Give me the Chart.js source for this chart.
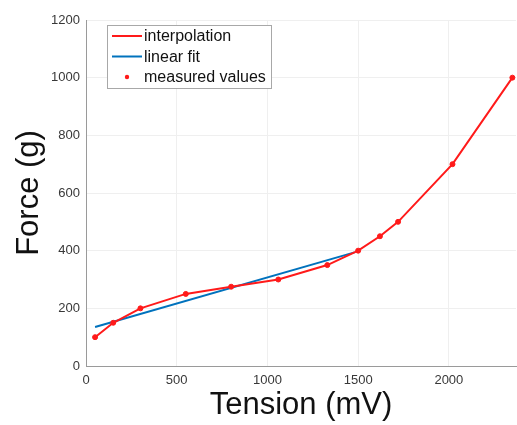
<!DOCTYPE html>
<html>
<head>
<meta charset="utf-8">
<script src="https://cdn.jsdelivr.net/npm/chart.js@4/dist/chart.umd.min.js"></script>
<style>
  body { margin: 0; background: #fff; }
  #wrap { width: 517px; height: 425px; }
</style>
</head>
<body>
<div id="wrap"><canvas id="myChart" width="517" height="425"></canvas></div>
<script>
// measured points (Tension mV -> Force g)
const tension = [50, 150, 300, 550, 800, 1060, 1330, 1500, 1620, 1720, 2020, 2350];
const force = [100, 150, 200, 250, 275, 300, 350, 400, 450, 500, 700, 1000];

// linear fit end points
const fitTension = [50, 1480];
const fitForce = [135, 394];

const xTicks = [0, 500, 1000, 1500, 2000];
const yTicks = [0, 200, 400, 600, 800, 1000, 1200];

const legendItems = [
  { label: 'interpolation', color: '#ff1a1a', kind: 'line' },
  { label: 'linear fit', color: '#0072bd', kind: 'line' },
  { label: 'measured values', color: '#ff1a1a', kind: 'dot' }
];

const FONT = '"Liberation Sans", Arial, sans-serif';
const toPoints = (xs, ys) => xs.map((x, i) => ({ x: x, y: ys[i] }));

// legend box drawn inside the plot, top left
const boxLegend = {
  id: 'boxLegend',
  afterDraw(chart) {
    const ctx = chart.ctx;
    const area = chart.chartArea;
    const left = area.left + 21, top = area.top + 5;
    const w = 164, h = 63, rowH = 20.5;
    ctx.save();
    ctx.fillStyle = '#fff';
    ctx.fillRect(left, top, w, h);
    ctx.strokeStyle = '#a8a8a8';
    ctx.lineWidth = 1;
    ctx.strokeRect(left + 0.5, top + 0.5, w, h);
    ctx.font = '16px ' + FONT;
    ctx.textBaseline = 'middle';
    legendItems.forEach((item, i) => {
      const y = top + 11 + i * rowH;
      if (item.kind === 'line') {
        ctx.strokeStyle = item.color;
        ctx.lineWidth = 2;
        ctx.beginPath();
        ctx.moveTo(left + 5, y);
        ctx.lineTo(left + 35, y);
        ctx.stroke();
      } else {
        ctx.fillStyle = item.color;
        ctx.beginPath();
        ctx.arc(left + 20, y, 2.2, 0, Math.PI * 2);
        ctx.fill();
      }
      ctx.fillStyle = '#111';
      ctx.fillText(item.label, left + 37, y + 1);
    });
    ctx.restore();
  }
};

new Chart(document.getElementById('myChart').getContext('2d'), {
  type: 'scatter',
  data: {
    datasets: [
      {
        label: 'interpolation',
        data: toPoints(tension, force),
        showLine: true,
        borderColor: '#ff1a1a',
        borderWidth: 2,
        pointRadius: 0,
        tension: 0,
        order: 2
      },
      {
        label: 'linear fit',
        data: toPoints(fitTension, fitForce),
        showLine: true,
        borderColor: '#0072bd',
        borderWidth: 2,
        pointRadius: 0,
        order: 3
      },
      {
        label: 'measured values',
        data: toPoints(tension, force),
        showLine: false,
        backgroundColor: '#ff1a1a',
        borderColor: '#ff1a1a',
        pointRadius: 2.5,
        order: 1
      }
    ]
  },
  options: {
    responsive: false,
    animation: false,
    layout: { autoPadding: false, padding: { top: 20, right: 1, left: 0, bottom: 0 } },
    plugins: {
      legend: { display: false },
      tooltip: { enabled: false }
    },
    scales: {
      x: {
        type: 'linear',
        min: 0,
        max: 2370,
        afterBuildTicks: (axis) => { axis.ticks = xTicks.map(v => ({ value: v })); },
        afterFit: (axis) => { axis.height = 59; axis.paddingRight = 0; axis.paddingLeft = 0; },
        grid: { color: '#efefef', drawTicks: false },
        border: { color: '#9a9a9a', width: 1 },
        ticks: { color: '#383838', padding: 7, font: { size: 13, family: FONT }, callback: (v) => String(v) },
        title: {
          display: true,
          text: 'Tension (mV)',
          color: '#111',
          padding: { top: 0, bottom: 1 },
          font: { size: 31, family: FONT }
        }
      },
      y: {
        min: 0,
        max: 1200,
        afterBuildTicks: (axis) => { axis.ticks = yTicks.map(v => ({ value: v })); },
        afterFit: (axis) => { axis.width = 86; axis.paddingTop = 0; axis.paddingBottom = 0; },
        grid: { color: '#efefef', drawTicks: false },
        border: { color: '#9a9a9a', width: 1 },
        ticks: { color: '#383838', padding: 6, font: { size: 13, family: FONT }, callback: (v) => String(v) },
        title: {
          display: true,
          text: 'Force (g)',
          color: '#111',
          padding: { top: 11, bottom: 0 },
          font: { size: 31, family: FONT }
        }
      }
    }
  },
  plugins: [boxLegend]
});
</script>
</body>
</html>
